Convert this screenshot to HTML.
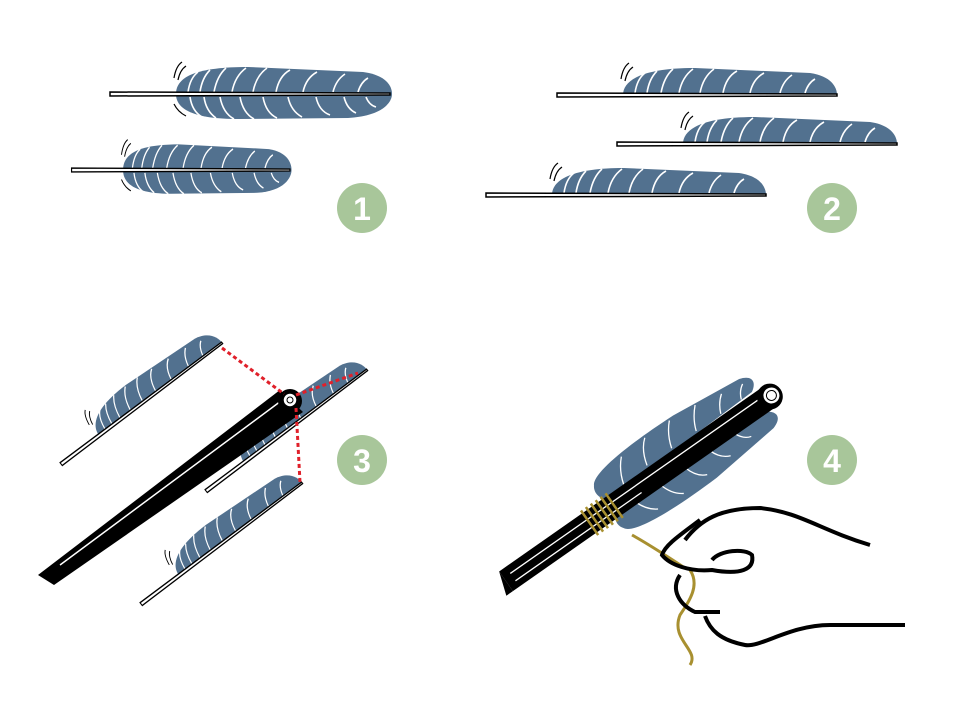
<!DOCTYPE html>
<html><head><style>html,body{margin:0;padding:0;background:#fff}svg{display:block}</style></head><body>
<svg width="960" height="720" viewBox="0 0 960 720" xmlns="http://www.w3.org/2000/svg">
<defs>
<g id="full">
<path d="M68,0 C68,-18 90,-27 140,-27 L255,-22 C278,-19 284,-8 284,0 C284,8 275,22 240,24 L130,25 C85,25 68,15 68,0Z" fill="#52718f"/>
<g stroke="#fff" stroke-width="1.6" fill="none">
<path d="M80,-2 q2,-14 10,-20 M92,-2 q2,-14 10,-22 M106,-2 q3,-16 12,-24 M124,-2 q3,-16 14,-24 M145,-2 q3,-16 14,-24 M168,-2 q3,-16 14,-22 M195,-2 q3,-14 14,-20 M225,-2 q3,-12 12,-18 M250,-2 q3,-10 10,-14"/>
<path d="M82,3 q2,14 12,20 M96,3 q2,14 12,21 M112,3 q3,16 14,22 M132,3 q3,16 14,22 M155,3 q3,16 14,21 M180,3 q3,14 14,20 M208,3 q3,14 14,18 M236,3 q3,12 12,16 M258,3 q3,8 10,10"/>
</g>
<path d="M2,-2 L282,-1 L282,1 L2,2 Z" fill="#fff" stroke="#000" stroke-width="1.5"/>
<path d="M66,-16 q2,-12 8,-16 M70,-14 q2,-10 8,-14 M66,10 q4,8 12,12" stroke="#000" stroke-width="1.2" fill="none"/>
</g>
<g id="half">
<path d="M68,0 C68,-16 90,-27 140,-27 L255,-22 C276,-19 282,-8 282,0Z" fill="#52718f"/>
<path d="M80,-2 q2,-14 10,-20 M92,-2 q2,-14 10,-22 M106,-2 q3,-16 12,-24 M124,-2 q3,-16 14,-24 M145,-2 q3,-16 14,-24 M168,-2 q3,-16 14,-22 M195,-2 q3,-14 14,-20 M225,-2 q3,-12 12,-18 M250,-2 q3,-10 10,-14" stroke="#fff" stroke-width="1.6" fill="none"/>
<path d="M2,-2 L282,-1 L282,1 L2,2 Z" fill="#fff" stroke="#000" stroke-width="1.5"/>
<path d="M66,-16 q2,-12 8,-16 M70,-14 q2,-10 8,-14" stroke="#000" stroke-width="1.2" fill="none"/>
</g>
</defs>

<use href="#full" transform="translate(108,94)"/>
<use href="#full" transform="translate(70,170) scale(0.78,0.95)"/>
<use href="#half" transform="translate(555,95)"/>
<use href="#half" transform="translate(615,144)"/>
<use href="#half" transform="translate(484,195)"/>

<use href="#half" transform="translate(60,465) rotate(-37) scale(0.72,0.9)"/>
<use href="#half" transform="translate(205,492) rotate(-37) scale(0.72,0.9)"/>
<use href="#half" transform="translate(140,605) rotate(-37) scale(0.72,0.9)"/>
<path d="M38,575 L280,390 L303,412 L54,585 Z" fill="#000"/>
<path d="M60,565 L285,398" stroke="#fff" stroke-width="1.5"/>
<circle cx="290" cy="401" r="12" fill="#000"/>
<circle cx="290" cy="400" r="7" fill="#fff" stroke="#000" stroke-width="1.5"/>
<circle cx="290" cy="400" r="3" fill="none" stroke="#000"/>
<g stroke="#e0202a" stroke-width="3" stroke-dasharray="4,3" fill="none">
<path d="M222,348 L284,394"/>
<path d="M296,395 L358,373"/>
<path d="M296,408 L300,482"/>
</g>

<g transform="translate(565,540) rotate(-35)">
<path d="M55,-28 C60,-38 100,-42 160,-40 L235,-32 C248,-28 248,-20 238,-14 L60,-8 C52,-12 50,-22 55,-28Z" fill="#52718f"/>
<path d="M55,24 C60,34 100,38 160,36 L235,28 C248,24 248,16 238,10 L60,5 C52,9 50,18 55,24Z" fill="#52718f"/>
<g stroke="#fff" stroke-width="1.3" fill="none">
<path d="M80,-12 q4,-14 14,-24 M110,-14 q4,-16 14,-24 M140,-14 q4,-14 14,-24 M170,-14 q4,-12 14,-22 M200,-14 q4,-10 12,-16 M225,-14 q3,-8 10,-12"/>
<path d="M80,10 q4,12 14,18 M110,10 q4,14 14,20 M140,10 q4,14 14,18 M170,10 q4,12 14,16 M200,10 q4,10 12,12"/>
</g>
<rect x="-72" y="-12" width="322" height="24" fill="#000"/>
<path d="M-72,-12 L-80,12 L-72,12Z" fill="#000"/>
<path d="M-64,-4 L240,-4 M-64,5 L90,5" stroke="#fff" stroke-width="1.3"/>
<circle cx="250" cy="0" r="13" fill="#000"/>
<circle cx="252" cy="0" r="9" fill="#fff" stroke="#000" stroke-width="2"/>
<circle cx="252" cy="0" r="5" fill="none" stroke="#000"/>
<g stroke="#a89030" stroke-width="2.5" fill="none">
<path d="M30,-15 L30,15 M36,-15 L36,15 M42,-15 L42,15 M48,-15 L48,15 M54,-15 L54,15 M60,-15 L60,15"/>
</g>
</g>
<path d="M632,535 C650,545 665,555 685,568 M690,570 C700,585 690,600 680,615 C670,640 700,650 690,665" stroke="#a89030" stroke-width="3" fill="none"/>
<path d="M685,540 C700,520 720,508 760,508 C800,512 820,530 870,545" stroke="#000" stroke-width="4" fill="none"/>
<path d="M700,520 C680,535 665,545 662,555 C670,565 690,572 712,570 C740,575 755,570 752,555 C745,548 720,550 712,560" stroke="#000" stroke-width="4" fill="none"/>
<path d="M680,575 C670,590 680,605 695,612 L720,612" stroke="#000" stroke-width="4" fill="none"/>
<path d="M705,616 C710,630 720,640 745,645 C760,648 790,625 830,625 L905,625" stroke="#000" stroke-width="4" fill="none"/>

<g font-family="Liberation Sans, sans-serif" font-weight="bold" font-size="32" fill="#fff" text-anchor="middle">
<circle cx="362" cy="208" r="25" fill="#a8c69a"/><text x="362" y="220">1</text>
<circle cx="832" cy="208" r="25" fill="#a8c69a"/><text x="832" y="220">2</text>
<circle cx="362" cy="460" r="25" fill="#a8c69a"/><text x="362" y="472">3</text>
<circle cx="832" cy="460" r="25" fill="#a8c69a"/><text x="832" y="472">4</text>
</g>
</svg>
</body></html>
